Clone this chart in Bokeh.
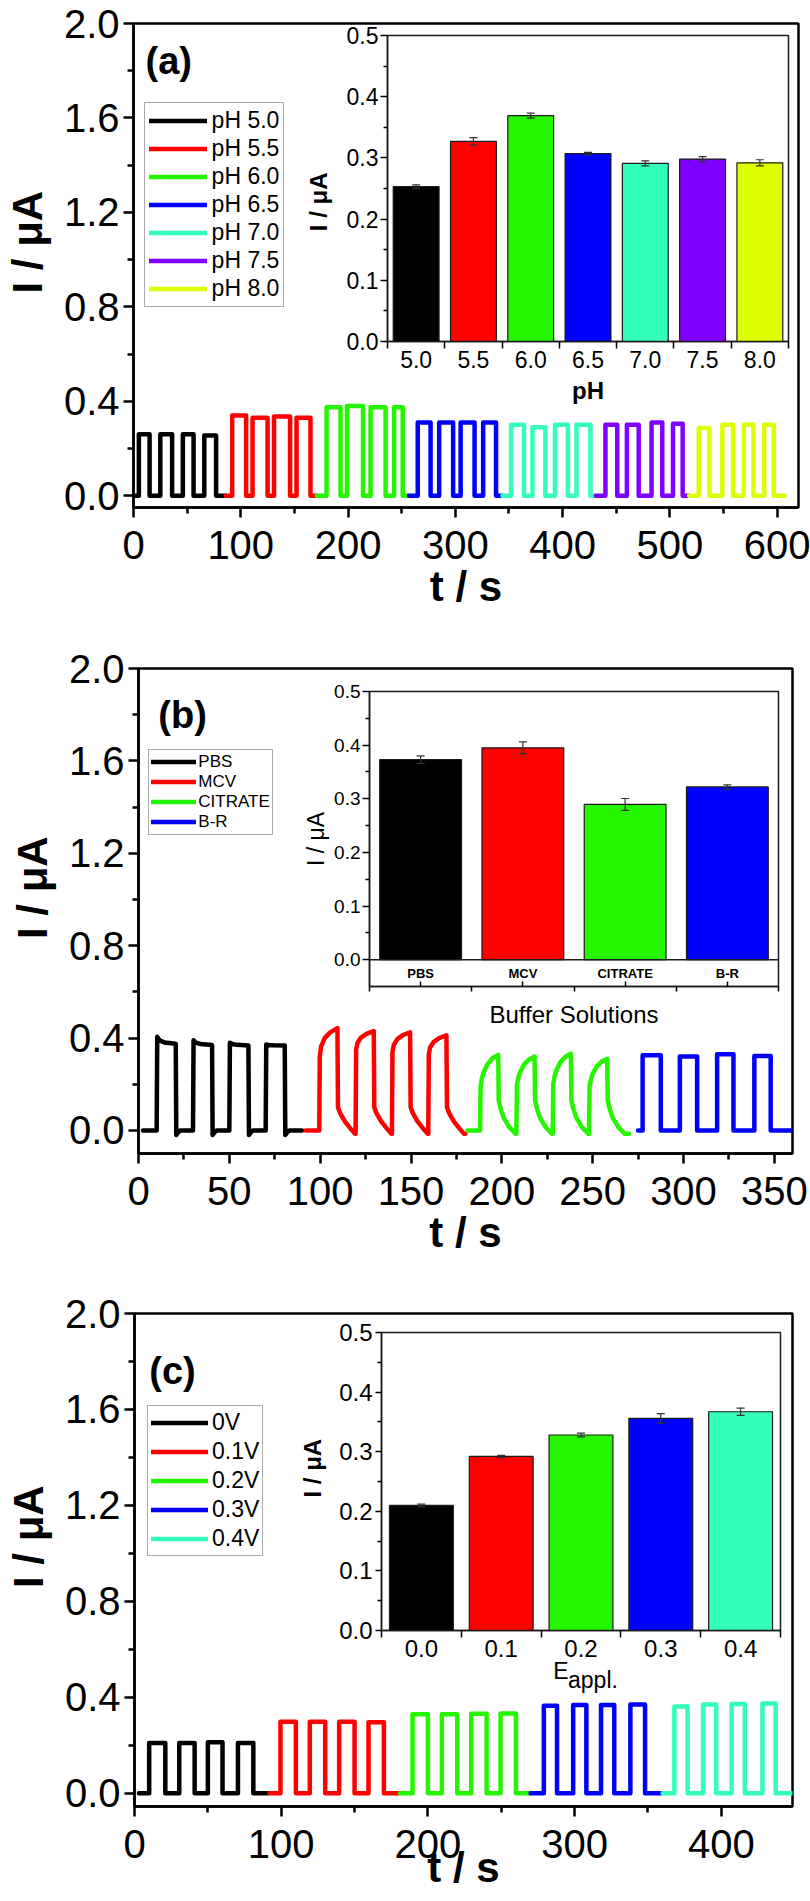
from bokeh.plotting import figure
from bokeh.layouts import column
from bokeh.models import (ColumnDataSource, FixedTicker, Label, Legend, LegendItem, LinearAxis,
                          PrintfTickFormatter, Range1d, Span, TeeHead, Whisker)
from bokeh.core.properties import value
from bokeh.embed import file_html
from bokeh.resources import INLINE

FONT = "Liberation Sans"
NBSP = "\u00a0"

BLACK = "#000000"
RED = "#FF0000"
GREEN = "#26F500"
BLUE = "#0000FF"
MINT = "#33FFBB"
VIOLET = "#8000FF"
LIME = "#DDFF00"

# ---------------- (a) photocurrent transients at different pH ----------------
ph_names = ["pH 5.0", "pH 5.5", "pH 6.0", "pH 6.5", "pH 7.0", "pH 7.5", "pH 8.0"]
ph_colors = [BLACK, RED, GREEN, BLUE, MINT, VIOLET, LIME]
ph_t0 = [2, 86, 171, 257, 344, 431, 518]
ph_t1 = [86, 171, 257, 344, 431, 518, 607]
ph_on = [[5, 25, 46, 66], [92, 111, 131, 152], [180, 199, 221, 243], [265, 285, 305, 326],
         [352, 372, 393, 413], [440, 460, 483, 503], [527, 549, 569, 588]]
ph_off = [[15, 36, 56, 77], [105, 125, 146, 165], [193, 214, 235, 251], [277, 298, 318, 338],
          [364, 384, 405, 426], [451, 471, 493, 512], [537, 559, 578, 597]]
ph_level = [[0.26, 0.26, 0.26, 0.255], [0.34, 0.33, 0.335, 0.33], [0.375, 0.38, 0.375, 0.375],
            [0.31, 0.31, 0.31, 0.31], [0.30, 0.29, 0.30, 0.30], [0.30, 0.30, 0.31, 0.305],
            [0.287, 0.30, 0.30, 0.30]]
ph_bar_labels = ["5.0", "5.5", "6.0", "6.5", "7.0", "7.5", "8.0"]
ph_bar_mean = [0.253, 0.327, 0.369, 0.307, 0.291, 0.298, 0.292]
ph_bar_err = [0.003, 0.006, 0.004, 0.002, 0.004, 0.004, 0.005]

# ---------------- (b) photocurrent transients in different buffers ----------------
buf_names = ["PBS", "MCV", "CITRATE", "B-R"]
buf_colors = [BLACK, RED, GREEN, BLUE]
buf_t0 = [2.5, 92, 181, 275]
buf_t1 = [90, 180, 270, 360]
buf_on = [[10, 30, 50, 70], [99.5, 119.5, 139.5, 159.5], [188, 208, 228, 248], [277.5, 298, 318.5, 339]]
buf_off = [[20.5, 40.5, 60.5, 80.5], [109.5, 129.5, 149.5, 169.5], [198, 218, 238, 258],
           [287.5, 307.5, 327.5, 348]]
buf_top_first = [[0.405, 0.39, 0.38, 0.372], [0.32, 0.35, 0.34, 0.33], [0.19, 0.195, 0.20, 0.19],
                 [0.325, 0.32, 0.33, 0.322]]
buf_top_last = [[0.375, 0.37, 0.368, 0.368], [0.443, 0.43, 0.425, 0.412], [0.327, 0.32, 0.332, 0.31],
                [0.325, 0.32, 0.33, 0.322]]
# light-on shape: fraction of the pulse length -> progress from first to last level
buf_rise_u = [[0.03, 0.15, 0.4, 1.0], [0.03, 0.1, 0.3, 0.6, 1.0], [0.03, 0.1, 0.2, 0.4, 0.7, 1.0], [0.0, 1.0]]
buf_rise_v = [[0, 0.5, 0.8, 1.0], [0, 0.35, 0.65, 0.85, 1.0], [0, 0.25, 0.45, 0.7, 0.9, 1.0], [0, 1.0]]
# light-off relaxation: seconds after switching off -> current
buf_tail_t = [[0.3, 1.2, 2.5], [0.3, 1.5, 4, 7, 9.7], [0.3, 1.5, 3, 6, 9.7], [0.0]]
buf_tail_v = [[-0.02, -0.01, 0.0], [0.10, 0.075, 0.04, 0.01, -0.015], [0.13, 0.09, 0.055, 0.015, -0.015], [0.0]]
buf_bar_mean = [0.373, 0.395, 0.2895, 0.322]
buf_bar_err = [0.007, 0.011, 0.011, 0.004]

# ---------------- (c) photocurrent transients at different applied potentials ----------------
pot_names = ["0V", "0.1V", "0.2V", "0.3V", "0.4V"]
pot_colors = [BLACK, RED, GREEN, BLUE, MINT]
pot_t0 = [3, 92, 181, 270, 360]
pot_t1 = [91, 180, 270, 359, 448]
pot_on = [[10, 30.5, 50, 70.5], [99.5, 119.5, 139.5, 159.5], [189.5, 209.5, 229.5, 249.5],
          [279, 299, 318, 338], [368, 387.5, 407, 428]]
pot_off = [[21, 41, 60, 81], [110, 130, 150, 170], [200, 220, 240, 260], [288, 308, 327, 348],
           [377, 396.5, 416, 437]]
pot_level = [[0.21, 0.21, 0.213, 0.21], [0.298, 0.298, 0.298, 0.296], [0.33, 0.33, 0.332, 0.333],
             [0.365, 0.368, 0.368, 0.37], [0.362, 0.37, 0.372, 0.374]]
pot_bar_labels = ["0.0", "0.1", "0.2", "0.3", "0.4"]
pot_bar_mean = [0.210, 0.292, 0.328, 0.356, 0.367]
pot_bar_err = [0.002, 0.002, 0.003, 0.008, 0.006]

SQUARE_U, SQUARE_V = [0.0, 1.0], [0.0, 1.0]
SQUARE_TT, SQUARE_TV = [0.0], [0.0]


def pulse_train(t0, t1, ons, offs, first, last, rise_u, rise_v, tail_t, tail_v):
    """Chopped-light current trace built from the switching times and plateau levels."""
    xs, ys = [t0], [0.0]
    for on, off, a, b in zip(ons, offs, first, last):
        xs.append(on)
        ys.append(ys[-1])
        for u, v in zip(rise_u, rise_v):
            xs.append(on + u * (off - on))
            ys.append(a + (b - a) * v)
        for t, v in zip(tail_t, tail_v):
            xs.append(off + t)
            ys.append(v)
    xs.append(t1)
    ys.append(ys[-1])
    return xs, ys


def main_panel(height, left, right, top, bottom, x_end, y_start, x_major, x_minor, xlab_standoff):
    p = figure(width=810, height=height, output_backend="svg", toolbar_location=None,
               x_range=Range1d(0, x_end), y_range=Range1d(y_start, 2.0),
               min_border_left=left, min_border_right=right,
               min_border_top=top, min_border_bottom=bottom, frame_align=False)
    p.xgrid.visible = False
    p.ygrid.visible = False
    p.background_fill_color = "white"
    p.border_fill_color = "white"
    p.outline_line_color = "black"
    p.outline_line_width = 2.5
    p.xaxis.ticker = FixedTicker(ticks=x_major, minor_ticks=x_minor)
    p.yaxis.ticker = FixedTicker(ticks=[0.0, 0.4, 0.8, 1.2, 1.6, 2.0], minor_ticks=[0.2, 0.6, 1.0, 1.4, 1.8])
    p.yaxis.formatter = PrintfTickFormatter(format="%.1f")
    for ax in (p.xaxis[0], p.yaxis[0]):
        ax.axis_line_width = 2.5
        ax.major_tick_line_width = 2.5
        ax.minor_tick_line_width = 2.5
        ax.major_tick_in = 0
        ax.major_tick_out = 10
        ax.minor_tick_in = 0
        ax.minor_tick_out = 6
        ax.major_label_text_font = FONT
        ax.major_label_text_font_size = "40px"
        ax.major_label_text_color = "black"
        ax.axis_label_text_font = FONT
        ax.axis_label_text_font_size = "42px"
        ax.axis_label_text_font_style = "bold"
        ax.axis_label_text_color = "black"
    p.xaxis.axis_label = "t / s"
    p.yaxis.axis_label = NBSP * 4 + "I / μA"
    p.yaxis.major_label_standoff = 4
    p.yaxis.axis_label_standoff = 10
    p.xaxis.major_label_standoff = 13
    p.xaxis.axis_label_standoff = xlab_standoff
    return p


def add_legend(p, renderers, names, loc, font_size, glyph_w, glyph_h, spacing, padding, standoff):
    lg = Legend(items=[LegendItem(label=n, renderers=[r]) for n, r in zip(names, renderers)],
                location=loc, orientation="vertical")
    lg.label_text_font = FONT
    lg.label_text_font_size = font_size
    lg.label_text_color = "black"
    lg.glyph_width = glyph_w
    lg.glyph_height = glyph_h
    lg.label_height = glyph_h
    lg.spacing = spacing
    lg.padding = padding
    lg.margin = 0
    lg.label_standoff = standoff
    lg.border_line_color = "#555555"
    lg.border_line_width = 1.5
    lg.background_fill_color = "white"
    lg.background_fill_alpha = 1.0
    p.add_layout(lg)


def inset_panel(height, left, right, top, bottom, n, y_start):
    # full page width, transparent outside the frame, laid over the main panel
    p = figure(width=810, height=height, output_backend="svg", toolbar_location=None,
               x_range=Range1d(0.5, n + 0.5), y_range=Range1d(y_start, 0.5),
               min_border_left=left, min_border_right=right,
               min_border_top=top, min_border_bottom=bottom, frame_align=False)
    p.xgrid.visible = False
    p.ygrid.visible = False
    p.border_fill_color = None
    p.background_fill_color = "white"
    p.outline_line_color = "#1a1a1a"
    p.outline_line_width = 1.5
    p.yaxis.ticker = FixedTicker(ticks=[0.0, 0.1, 0.2, 0.3, 0.4, 0.5],
                                 minor_ticks=[0.05, 0.15, 0.25, 0.35, 0.45])
    p.yaxis.formatter = PrintfTickFormatter(format="%.1f")
    p.xaxis.ticker = FixedTicker(ticks=list(range(1, n + 1)), minor_ticks=[i + 0.5 for i in range(n + 1)])
    for ax in (p.xaxis[0], p.yaxis[0]):
        ax.axis_line_width = 1.5
        ax.axis_line_color = "#1a1a1a"
        ax.major_tick_line_width = 1.5
        ax.minor_tick_line_width = 1.5
        ax.major_tick_in = 0
        ax.minor_tick_in = 0
        ax.major_label_text_font = FONT
        ax.major_label_text_color = "black"
        ax.axis_label_text_font = FONT
        ax.axis_label_text_color = "black"
    p.yaxis.major_tick_out = 7
    p.yaxis.minor_tick_out = 4
    p.xaxis.major_tick_out = 7
    p.xaxis.major_tick_line_alpha = 0.0
    p.xaxis.minor_tick_out = 7
    return p


def add_bars(p, means, errs, colors):
    idx = list(range(1, len(means) + 1))
    src = ColumnDataSource(dict(x=idx, top=means, color=colors,
                                hi=[m + e for m, e in zip(means, errs)],
                                lo=[m - e for m, e in zip(means, errs)]))
    p.vbar(x="x", top="top", bottom=0, width=0.8, fill_color="color", line_color="#1a1a1a",
           line_width=1.2, source=src)
    w = Whisker(base="x", upper="hi", lower="lo", source=src, line_color="#333333", line_width=1.2,
                upper_head=TeeHead(size=8, line_color="#333333", line_width=1.2),
                lower_head=TeeHead(size=8, line_color="#333333", line_width=1.2))
    w.level = "overlay"
    p.add_layout(w)


def text_axis(x_pos, text, size, standoff):
    """A bare axis below the frame carrying a single text at a chosen x position."""
    ax = LinearAxis(ticker=FixedTicker(ticks=[x_pos], minor_ticks=[]),
                    major_label_overrides={x_pos: text})
    ax.axis_line_color = None
    ax.major_tick_line_color = None
    ax.minor_tick_line_color = None
    ax.major_tick_in = 0
    ax.major_tick_out = 0
    ax.minor_tick_in = 0
    ax.minor_tick_out = 0
    ax.major_label_standoff = standoff
    ax.major_label_text_font = FONT
    ax.major_label_text_font_size = size
    ax.major_label_text_color = "black"
    return ax


def place_inset(inset, page_top, main_top, main_height):
    main_bottom = main_top + main_height
    inset.margin = (page_top - main_bottom, 0, main_bottom - (page_top + inset.height), 0)


# ======================= panel (a) =======================
pa = main_panel(645, 133, 12, 23, 138, 620, -0.05,
                [0, 100, 200, 300, 400, 500, 600], [50, 150, 250, 350, 450, 550], 1)
ra = []
for k in range(len(ph_names)):
    xs, ys = pulse_train(ph_t0[k], ph_t1[k], ph_on[k], ph_off[k], ph_level[k], ph_level[k],
                         SQUARE_U, SQUARE_V, SQUARE_TT, SQUARE_TV)
    ra.append(pa.line(xs, ys, line_color=ph_colors[k], line_width=4.5, line_join="round", line_cap="round"))
add_legend(pa, ra, ph_names, (10.6, 200), "23px", 58, 25, 1, 4, 5)
pa.add_layout(Label(x=11.2, y=1.84, text="(a)", text_font=FONT, text_font_size="38px",
                    text_font_style="bold", text_baseline="alphabetic", text_color="black"))

ia = inset_panel(390, 387, 22, 15, 69, len(ph_bar_labels), 0.0)
add_bars(ia, ph_bar_mean, ph_bar_err, ph_colors)
ia.xaxis.major_label_overrides = {i + 1: s for i, s in enumerate(ph_bar_labels)}
ia.xaxis.major_label_text_font_size = "23px"
ia.yaxis.major_label_text_font_size = "23px"
ia.xaxis.major_label_standoff = 2
ia.yaxis.major_label_standoff = 2
ia.xaxis.axis_label = "pH"
ia.xaxis.axis_label_text_font_size = "24px"
ia.xaxis.axis_label_text_font_style = "bold"
ia.xaxis.axis_label_standoff = 6
ia.yaxis.axis_label = "I / μA" + NBSP * 4
ia.yaxis.axis_label_text_font_size = "24px"
ia.yaxis.axis_label_text_font_style = "bold"
ia.yaxis.axis_label_standoff = 12
place_inset(ia, 20, 0, 645)

# ======================= panel (b) =======================
pb = main_panel(645, 138, 18, 23, 137, 360, -0.1,
                [0, 50, 100, 150, 200, 250, 300, 350], [25, 75, 125, 175, 225, 275, 325], 1)
rb = []
for k in range(len(buf_names)):
    xs, ys = pulse_train(buf_t0[k], buf_t1[k], buf_on[k], buf_off[k], buf_top_first[k], buf_top_last[k],
                         buf_rise_u[k], buf_rise_v[k], buf_tail_t[k], buf_tail_v[k])
    rb.append(pb.line(xs, ys, line_color=buf_colors[k], line_width=4.5, line_join="round", line_cap="round"))
add_legend(pb, rb, buf_names, (10.3, 318.5), "17px", 45, 17, 0, 2, 2)
pb.add_layout(Label(x=10.9, y=1.797, text="(b)", text_font=FONT, text_font_size="38px",
                    text_font_style="bold", text_baseline="alphabetic", text_color="black"))

ib = inset_panel(355, 369, 32, 16, 44, len(buf_names), -0.05)
add_bars(ib, buf_bar_mean, buf_bar_err, buf_colors)
ib.add_layout(Span(location=0, dimension="width", line_color="#1a1a1a", line_width=1.5))
ib.text(x=list(range(1, len(buf_names) + 1)), y=[-0.025] * len(buf_names), text=buf_names,
        text_font=value(FONT), text_font_size="13px", text_font_style="bold",
        text_align="center", text_baseline="middle", text_color="black")
ib.xaxis.major_label_overrides = {i + 1: "" for i in range(len(buf_names))}
ib.xaxis.major_label_text_font_size = "1px"
ib.xaxis.major_tick_out = 0
ib.xaxis.major_tick_in = 5
ib.xaxis.major_tick_line_alpha = 1.0
ib.xaxis.minor_tick_out = 5
ib.yaxis.major_label_text_font_size = "19px"
ib.yaxis.major_label_standoff = 2
ib.xaxis.axis_label = "Buffer Solutions"
ib.xaxis.axis_label_text_font_size = "24px"
ib.xaxis.axis_label_text_font_style = "normal"
ib.xaxis.axis_label_standoff = 9
ib.yaxis.axis_label = "I / μA"
ib.yaxis.axis_label_text_font_size = "23px"
ib.yaxis.axis_label_text_font_style = "normal"
ib.yaxis.axis_label_standoff = 2
place_inset(ib, 675, 645, 645)

# ======================= panel (c) =======================
pc = main_panel(611, 134, 18, 23, 95, 448.5, -0.055,
                [0, 100, 200, 300, 400], [50, 150, 250, 350], -17)
rc = []
for k in range(len(pot_names)):
    xs, ys = pulse_train(pot_t0[k], pot_t1[k], pot_on[k], pot_off[k], pot_level[k], pot_level[k],
                         SQUARE_U, SQUARE_V, SQUARE_TT, SQUARE_TV)
    rc.append(pc.line(xs, ys, line_color=pot_colors[k], line_width=4.5, line_join="round", line_cap="round"))
add_legend(pc, rc, pot_names, (13, 249.6), "23px", 57, 25, 2, 3, 4)
pc.add_layout(Label(x=10.1, y=1.76, text="(c)", text_font=FONT, text_font_size="38px",
                    text_font_style="bold", text_baseline="alphabetic", text_color="black"))

ic = inset_panel(390, 381, 30, 16, 76, len(pot_bar_labels), 0.0)
add_bars(ic, pot_bar_mean, pot_bar_err, pot_colors)
ic.xaxis.major_label_overrides = {i + 1: s for i, s in enumerate(pot_bar_labels)}
ic.xaxis.major_label_text_font_size = "24px"
ic.yaxis.major_label_text_font_size = "24px"
ic.xaxis.major_label_standoff = 2
ic.yaxis.major_label_standoff = 3
ic.yaxis.major_tick_out = 6
ic.yaxis.axis_label = NBSP * 4 + "I / μA"
ic.yaxis.axis_label_text_font_size = "24px"
ic.yaxis.axis_label_text_font_style = "bold"
ic.yaxis.axis_label_standoff = 10
# x title "E" with the subscript "appl." set slightly lower
ic.add_layout(text_axis(2.748, "E", "23px", -2), "below")
ic.add_layout(text_axis(3.15, "appl.", "23px", -20), "below")
place_inset(ic, 1316, 1290, 611)

layout = column(pa, ia, pb, ib, pc, ic, spacing=0)
open("out.html", "w").write(file_html(layout, INLINE))
